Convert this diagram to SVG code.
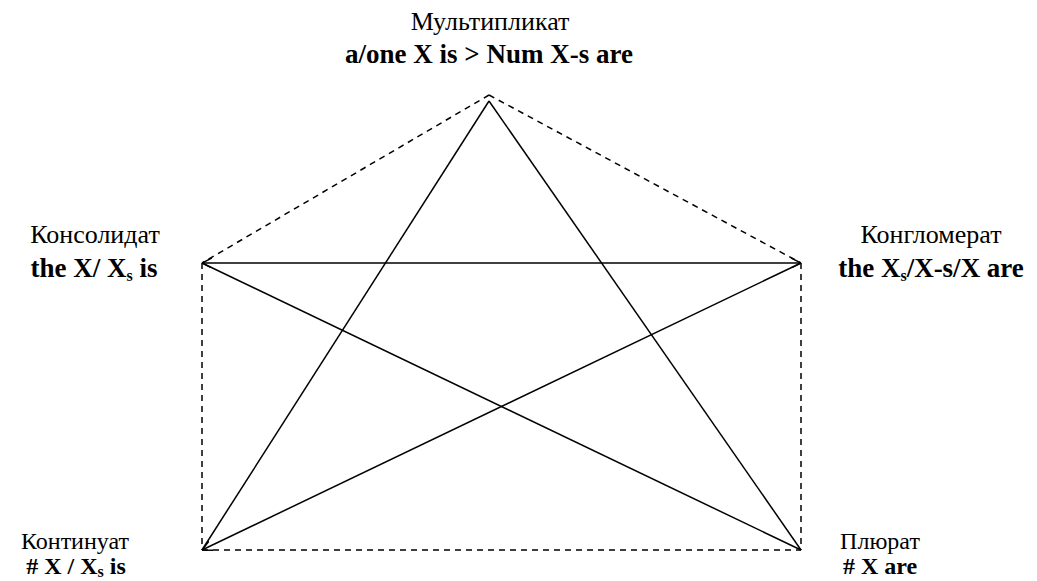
<svg xmlns="http://www.w3.org/2000/svg" width="1037" height="581" viewBox="0 0 1037 581">
<style>
.t{font-family:"Liberation Serif","Tinos","Times New Roman","DejaVu Serif",serif;font-size:26px;fill:#000;text-anchor:middle}
.b{font-weight:bold;font-size:27px}
.sm{font-size:24px}
.sub{font-size:16px}
.s{stroke:#000;stroke-width:1.5;fill:none}
.d{stroke:#000;stroke-width:1.5;fill:none;stroke-dasharray:6,5}
</style>
<defs>
<marker id="ah" viewBox="0 0 10 10" refX="10" refY="5" markerWidth="10" markerHeight="10" markerUnits="userSpaceOnUse" orient="auto-start-reverse">
<path d="M0,0 L10,5 L0,10" fill="none" stroke="#000" stroke-width="1.5"/>
</marker>
</defs>
<rect width="1037" height="581" fill="#fff"/>
<g id="connectors">
<line class="d" x1="489" y1="95" x2="202" y2="263"/>
<line class="d" x1="489" y1="95" x2="801" y2="263"/>
<line class="d" x1="202" y1="263" x2="202" y2="550"/>
<line class="d" x1="801" y1="263" x2="801" y2="550"/>
<line class="d" x1="202" y1="550" x2="801" y2="550"/>
<line class="s" x1="489" y1="101" x2="202" y2="550"/>
<line class="s" x1="489" y1="101" x2="801" y2="550"/>
<line class="s" x1="202" y1="263" x2="801" y2="263" marker-start="url(#ah)" marker-end="url(#ah)"/>
<line class="s" x1="202" y1="263" x2="801" y2="550"/>
<line class="s" x1="801" y1="263" x2="202" y2="550" marker-end="url(#ah)"/>
</g>
<g id="multiplikat" font-family="Liberation Serif, DejaVu Serif, serif">
<text class="t" x="490" y="30">Мультипликат</text>
<text class="t b" x="489" y="63">a/one X is &gt; Num X-s are</text>
</g>
<g id="konsolidat" font-family="Liberation Serif, DejaVu Serif, serif">
<text class="t" x="95" y="243">Консолидат</text>
<text class="t b" x="94" y="277">the X/ X<tspan class="sub" dy="4">s</tspan><tspan dy="-4"> is</tspan></text>
</g>
<g id="konglomerat" font-family="Liberation Serif, DejaVu Serif, serif">
<text class="t" x="931" y="243">Конгломерат</text>
<text class="t b" x="931" y="277">the X<tspan class="sub" dy="4">s</tspan><tspan dy="-4">/X-s/X are</tspan></text>
</g>
<g id="kontinuat" font-family="Liberation Serif, DejaVu Serif, serif">
<text class="t sm" x="75" y="549">Континуат</text>
<text class="t b sm" x="76" y="574"># X / X<tspan class="sub" dy="3">s</tspan><tspan dy="-3"> is</tspan></text>
</g>
<g id="plyurat" font-family="Liberation Serif, DejaVu Serif, serif">
<text class="t sm" x="880" y="549">Плюрат</text>
<text class="t b sm" x="880" y="574"># X are</text>
</g>
</svg>
